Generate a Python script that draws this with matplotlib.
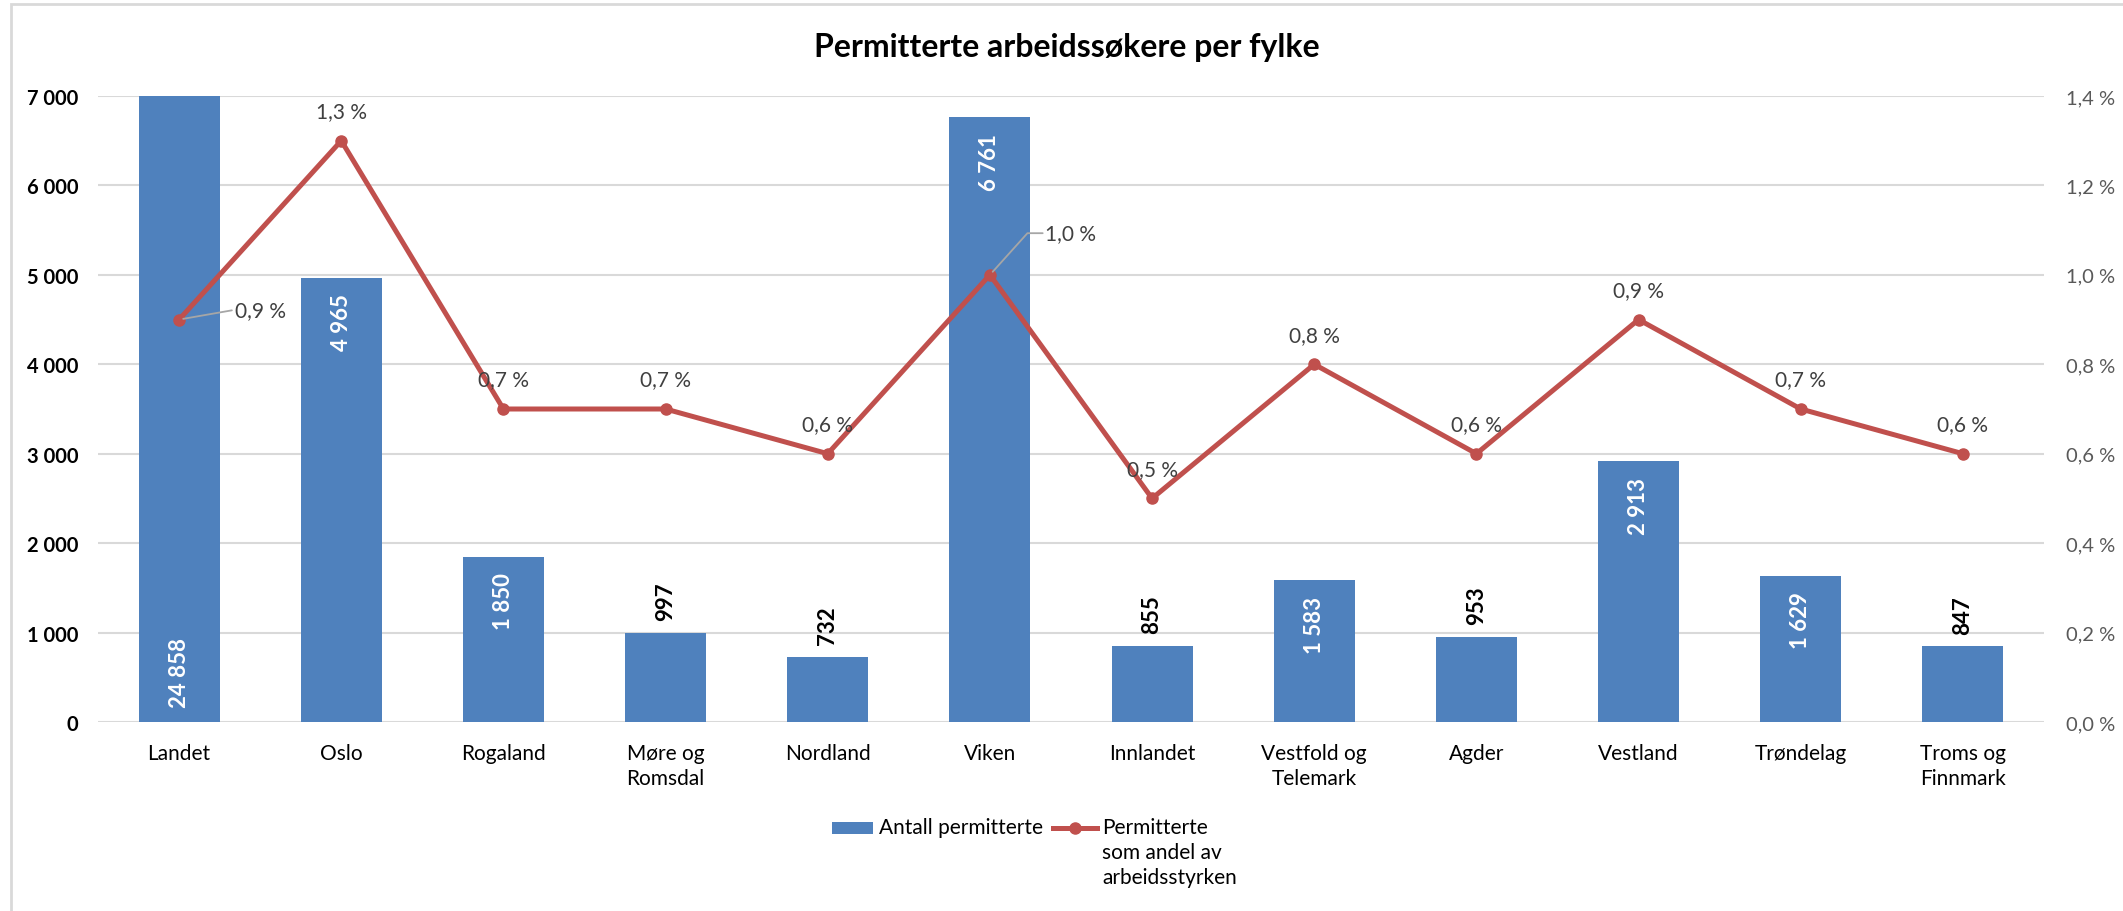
import matplotlib
matplotlib.use('Agg')
import matplotlib.pyplot as plt
from matplotlib.lines import Line2D
from matplotlib.patches import Rectangle

plt.rcParams['font.family'] = ['Lato', 'DejaVu Sans']

# data
fylker = ['Landet', 'Oslo', 'Rogaland', 'Møre og\nRomsdal', 'Nordland', 'Viken',
          'Innlandet', 'Vestfold og\nTelemark', 'Agder', 'Vestland', 'Trøndelag',
          'Troms og\nFinnmark']
antall = [24858, 4965, 1850, 997, 732, 6761, 855, 1583, 953, 2913, 1629, 847]
andel = [0.9, 1.3, 0.7, 0.7, 0.6, 1.0, 0.5, 0.8, 0.6, 0.9, 0.7, 0.6]

left_ticks = [0, 1000, 2000, 3000, 4000, 5000, 6000, 7000]
left_tick_labels = ['0', '1 000', '2 000', '3 000', '4 000', '5 000', '6 000', '7 000']
right_ticks = [0.0, 0.2, 0.4, 0.6, 0.8, 1.0, 1.2, 1.4]
right_tick_labels = ['0,0 %', '0,2 %', '0,4 %', '0,6 %', '0,8 %', '1,0 %', '1,2 %', '1,4 %']

title = 'Permitterte arbeidssøkere per fylke'
bar_name = 'Antall permitterte'
line_name = 'Permitterte\nsom andel av\narbeidsstyrken'

bar_color = '#4F81BD'
line_color = '#C0504D'
grid_color = '#D9D9D9'
W, H = 2123, 912


def fmt_num(v):
    return f'{v:,}'.replace(',', ' ')


def fmt_pct(v):
    return f'{v:.1f} %'.replace('.', ',')


fig = plt.figure(figsize=(W / 100, H / 100), dpi=100)
ax = fig.add_axes([98 / W, 1 - 723 / H, (2044 - 98) / W, (723 - 97) / H])
ax2 = ax.twinx()

x = list(range(len(fylker)))
ax.bar(x, antall, width=0.5, color=bar_color, zorder=2)
ax.set_xlim(-0.5, len(fylker) - 0.5)
ax.set_ylim(0, 7000)
ax.set_yticks(left_ticks)
ax.set_yticklabels(left_tick_labels, fontsize=14.5, fontweight='bold', color='black')
ax.set_xticks(x)
ax.set_xticklabels(fylker, fontsize=15, color='black', linespacing=1.3)
ax.tick_params(axis='y', length=0, pad=14)
ax.tick_params(axis='x', length=0, pad=15)
ax.grid(axis='y', color=grid_color, lw=1.5, zorder=0)
ax.set_axisbelow(True)
for s in ax.spines.values():
    s.set_visible(False)

# bar labels
for i, v in enumerate(antall):
    txt = fmt_num(v)
    if v > 7000:
        ax.annotate(txt, (i, 0), xytext=(0, 11), textcoords='offset points', rotation=90,
                    ha='center', va='bottom', color='white', fontsize=16, fontweight='bold')
    elif v > 1500:
        ax.annotate(txt, (i, v), xytext=(0, -11), textcoords='offset points', rotation=90,
                    ha='center', va='top', color='white', fontsize=16, fontweight='bold')
    else:
        ax.annotate(txt, (i, v), xytext=(0, 9), textcoords='offset points', rotation=90,
                    ha='center', va='bottom', color='black', fontsize=16, fontweight='bold')

# line on secondary axis
ax2.plot(x, andel, color=line_color, lw=3.6, marker='o', ms=8, zorder=3)
ax2.set_ylim(0, 1.4)
ax2.set_yticks(right_ticks)
ax2.set_yticklabels(right_tick_labels, fontsize=14.5, color='#595959')
ax2.tick_params(axis='y', length=0, pad=16)
for s in ax2.spines.values():
    s.set_visible(False)

lbl_kw = dict(textcoords='offset points', fontsize=15, color='#404040')
for i, v in enumerate(andel):
    if i == 0:
        ax2.annotate(fmt_pct(v), (i, v), xytext=(40, 7), ha='left', va='center',
                     arrowprops=dict(arrowstyle='-', color='#A6A6A6', lw=1.3,
                                     relpos=(0, 0.5), shrinkA=0, shrinkB=3), **lbl_kw)
    elif i == 5:
        ax2.annotate(fmt_pct(v), (i, v), xytext=(40, 30), ha='left', va='center',
                     arrowprops=dict(arrowstyle='-', color='#A6A6A6', lw=1.3,
                                     relpos=(0, 0.5), shrinkA=0, shrinkB=3,
                                     connectionstyle='angle,angleA=0,angleB=48,rad=0'),
                     **lbl_kw)
    else:
        ax2.annotate(fmt_pct(v), (i, v), xytext=(0, 17), ha='center', va='baseline', **lbl_kw)

# title
fig.text(1067 / W, 1 - 57 / H, title, ha='center', va='baseline', fontsize=23, fontweight='bold')

# legend
fig.add_artist(Rectangle((832 / W, 1 - 835 / H), 41 / W, 12 / H, transform=fig.transFigure,
                         facecolor=bar_color, edgecolor='none'))
fig.text(879 / W, 1 - 818 / H, bar_name, ha='left', va='top', fontsize=15)
fig.add_artist(Line2D([1053 / W, 1075 / W, 1097 / W], [1 - 829 / H] * 3, transform=fig.transFigure,
                      color=line_color, lw=3.6, marker='o', ms=8, markevery=[1]))
fig.text(1102 / W, 1 - 818 / H, line_name, ha='left', va='top', fontsize=15, linespacing=1.3)

# chart border
fig.add_artist(Rectangle((11 / W, -0.1), 1.2, 1.1 - 5 / H, transform=fig.transFigure,
                         fill=False, edgecolor=grid_color, lw=2))

fig.savefig('out.png', dpi=100)
